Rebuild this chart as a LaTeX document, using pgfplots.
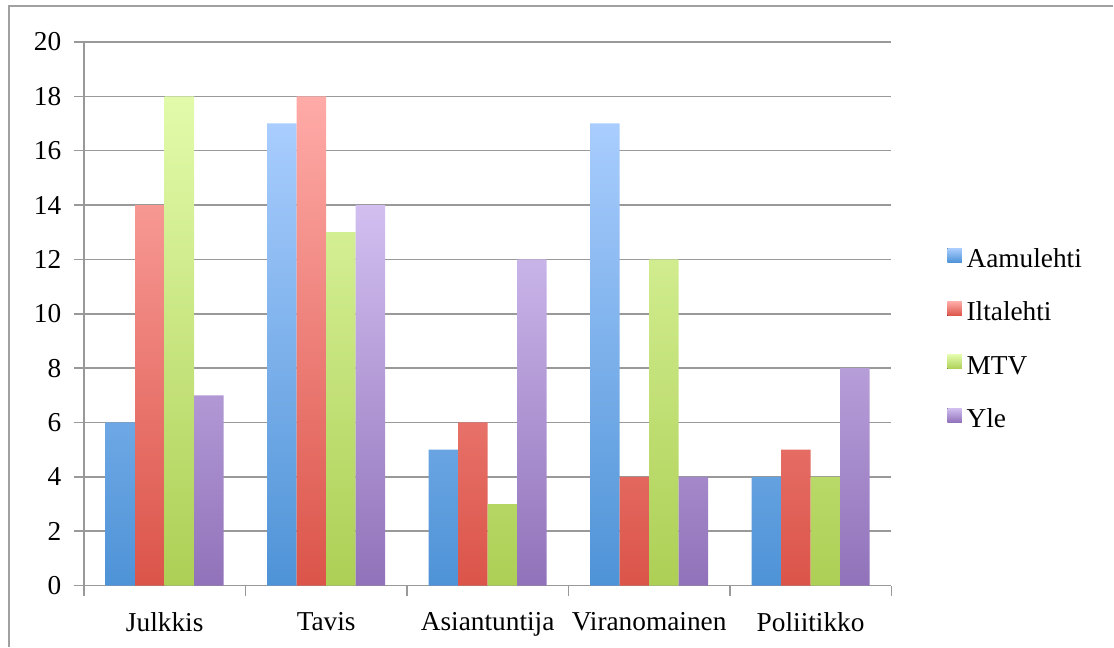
\documentclass[border=0pt]{standalone}
\usepackage{pgfplots}
\pgfplotsset{compat=1.18}
\usepackage{fontspec}
\setmainfont{Liberation Serif}
\definecolor{gridgray}{RGB}{153,153,153}
\definecolor{framegray}{RGB}{160,160,160}
\definecolor{blueT}{RGB}{169,205,254}
\definecolor{blueB}{RGB}{78,147,215}
\definecolor{redT}{RGB}{255,171,168}
\definecolor{redB}{RGB}{219,84,73}
\definecolor{greenT}{RGB}{226,251,171}
\definecolor{greenB}{RGB}{173,207,85}
\definecolor{purpleT}{RGB}{210,191,240}
\definecolor{purpleB}{RGB}{145,114,186}

\begin{document}
\begin{tikzpicture}
% page and outer frame (1 px = 0.75pt)
\path (0,0) rectangle (835.5pt,485.25pt);
\draw[framegray, line width=1.2pt] (6.75pt,0) -- (6.75pt,480.75pt) -- (835.5pt,480.75pt);

\begin{axis}[
    at={(63pt,45.75pt)}, anchor=south west,
    scale only axis,
    width=606pt, height=408pt,
    xmin=-0.5, xmax=4.5,
    ymin=0, ymax=20,
    ytick={0,2,...,20},
    xtick={0,1,2,3,4},
    xticklabels={Julkkis,Tavis,Asiantuntija,Viranomainen,Poliitikko},
    minor xtick={-0.5,0.5,1.5,2.5,3.5,4.5},
    axis x line*=bottom, axis y line*=left,
    axis line style={gridgray, line width=1.2pt},
    tick align=outside,
    major tick length=7.5pt,
    minor tick length=7.5pt,
    major x tick style={draw=none},
    tick style={gridgray, line width=1.2pt},
    ymajorgrids,
    grid style={gridgray, line width=1.2pt},
    tick label style={font=\fontsize{20.5}{24}\selectfont},
    /pgf/number format/assume math mode=true,
    yticklabel style={xshift=-6pt},
    xticklabel style={yshift=-9pt},
    ybar, bar width=0.1826,
    legend style={at={(1.064,0.627)}, anchor=north west, draw=none, fill=none,
        font=\fontsize{20.5}{24}\selectfont,
        row sep=20pt,
        nodes={text height=15pt, text depth=5pt, inner sep=0pt}},
    legend cell align=left,
    legend image code/.code={\fill[#1] (0pt,-1pt) rectangle (11pt,9.5pt); \path (0pt,0pt) -- (14.5pt,0pt);},
]
\addplot[draw=none, shading=axis, top color=blueT, bottom color=blueB, bar shift=-0.2739]
    coordinates {(0,6) (1,17) (2,5) (3,17) (4,4)};
\addlegendentry{Aamulehti}
\addplot[draw=none, shading=axis, top color=redT, bottom color=redB, bar shift=-0.0913]
    coordinates {(0,14) (1,18) (2,6) (3,4) (4,5)};
\addlegendentry{Iltalehti}
\addplot[draw=none, shading=axis, top color=greenT, bottom color=greenB, bar shift=0.0913]
    coordinates {(0,18) (1,13) (2,3) (3,12) (4,4)};
\addlegendentry{MTV}
\addplot[draw=none, shading=axis, top color=purpleT, bottom color=purpleB, bar shift=0.2739]
    coordinates {(0,7) (1,14) (2,12) (3,4) (4,8)};
\addlegendentry{Yle}
\end{axis}
\end{tikzpicture}
\end{document}
